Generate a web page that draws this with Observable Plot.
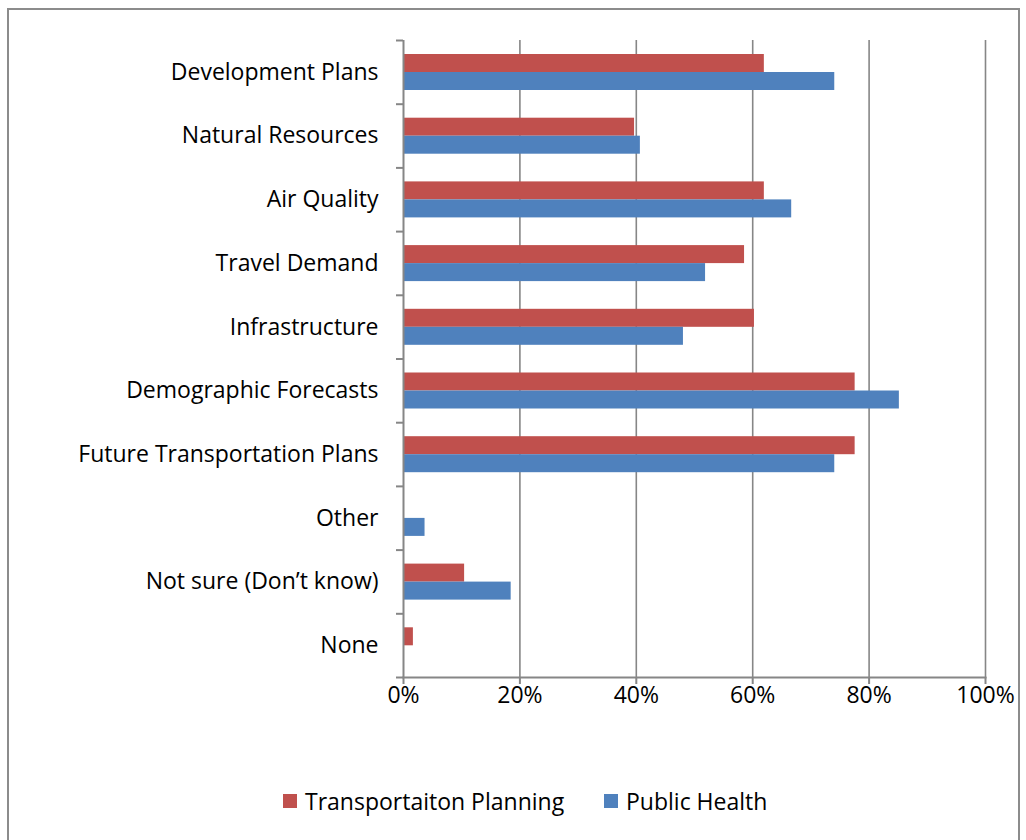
<!DOCTYPE html>
<html>
<head>
<meta charset="utf-8">
<script src="https://cdn.jsdelivr.net/npm/d3@7"></script>
<script src="https://cdn.jsdelivr.net/npm/@observablehq/plot@0.6"></script>
<style>
  html, body { margin: 0; padding: 0; background: #fff; }
  body { width: 1026px; height: 840px; position: relative; overflow: hidden; font-family: "Open Sans", sans-serif; }
  #frame { position: absolute; left: 7px; top: 8px; width: 1013px; height: 840px; border: 2px solid #8c8c8c; box-sizing: border-box; }
  #chart { position: absolute; left: 0; top: 0; }
  #legend { position: absolute; top: 785px; left: 0; width: 1026px; font-size: 23px; color: #000; }
  .item { position: absolute; display: flex; align-items: center; white-space: nowrap; }
  .sw { width: 14px; height: 14px; display: inline-block; margin-right: 8px; }
</style>
</head>
<body>
<div id="frame"></div>
<div id="chart"></div>
<div id="legend"></div>
<script>
const categories = [
  "Development Plans",
  "Natural Resources",
  "Air Quality",
  "Travel Demand",
  "Infrastructure",
  "Demographic Forecasts",
  "Future Transportation Plans",
  "Other",
  "Not sure (Don’t know)",
  "None"
];
const transportation = [0.620, 0.397, 0.620, 0.586, 0.603, 0.776, 0.776, 0.0, 0.105, 0.017];
const publicHealth   = [0.741, 0.407, 0.667, 0.519, 0.481, 0.852, 0.741, 0.037, 0.185, 0.0];
const seriesNames = ["Transportaiton Planning", "Public Health"];
const seriesColors = ["#C0504D", "#4F81BD"];
const xTicks = [0, 0.2, 0.4, 0.6, 0.8, 1.0];

const W = 1026, H = 720;
const mL = 403, mR = 41, mT = 40, mB = 43;
const band = (H - mT - mB) / categories.length;
const pxX = 1 / (W - mL - mR);

const tData = categories.map((c, i) => ({cat: c, v: transportation[i]}));
const hData = categories.map((c, i) => ({cat: c, v: publicHealth[i]}));
const gray = "#868686";

const chart = Plot.plot({
  width: W, height: H,
  marginLeft: mL, marginRight: mR, marginTop: mT, marginBottom: mB,
  style: {fontFamily: "Open Sans, sans-serif", fontSize: "23px", color: "#000", background: "transparent", overflow: "visible"},
  x: {domain: [0, 1], label: null},
  y: {domain: categories, padding: 0, round: false, label: null},
  marks: [
    Plot.gridX(xTicks.slice(1), {stroke: gray, strokeOpacity: 1, strokeWidth: 1.6}),
    Plot.barX(tData, {x: "v", y: "cat", fill: seriesColors[0], insetTop: 14, insetBottom: band - 32}),
    Plot.barX(hData, {x: "v", y: "cat", fill: seriesColors[1], insetTop: 32, insetBottom: band - 50}),
    Plot.ruleX([0], {stroke: gray, strokeWidth: 2}),
    Plot.frame({anchor: "bottom", stroke: gray, strokeWidth: 2}),
    Plot.ruleY(categories, {y: d => d, x1: -7 * pxX, x2: 0, dy: -band / 2, stroke: gray, strokeWidth: 2}),
    Plot.ruleY([categories[categories.length - 1]], {y: d => d, x1: -7 * pxX, x2: 0, dy: band / 2, stroke: gray, strokeWidth: 2}),
    Plot.axisX({ticks: xTicks, tickFormat: d3.format(".0%"), tickSize: 7, tickPadding: 2, stroke: gray, strokeWidth: 2, strokeOpacity: 1, fill: "#000", anchor: "bottom", label: null}),
    Plot.axisY({tickSize: 0, tickPadding: 25, fill: "#000", anchor: "left", label: null})
  ]
});
document.getElementById("chart").appendChild(chart);

const legend = document.getElementById("legend");
const lefts = [283, 604];
seriesNames.forEach((n, i) => {
  const it = document.createElement("div");
  it.className = "item";
  it.style.left = lefts[i] + "px";
  it.innerHTML = `<span class="sw" style="background:${seriesColors[i]}"></span><span>${n}</span>`;
  legend.appendChild(it);
});
</script>
</body>
</html>
